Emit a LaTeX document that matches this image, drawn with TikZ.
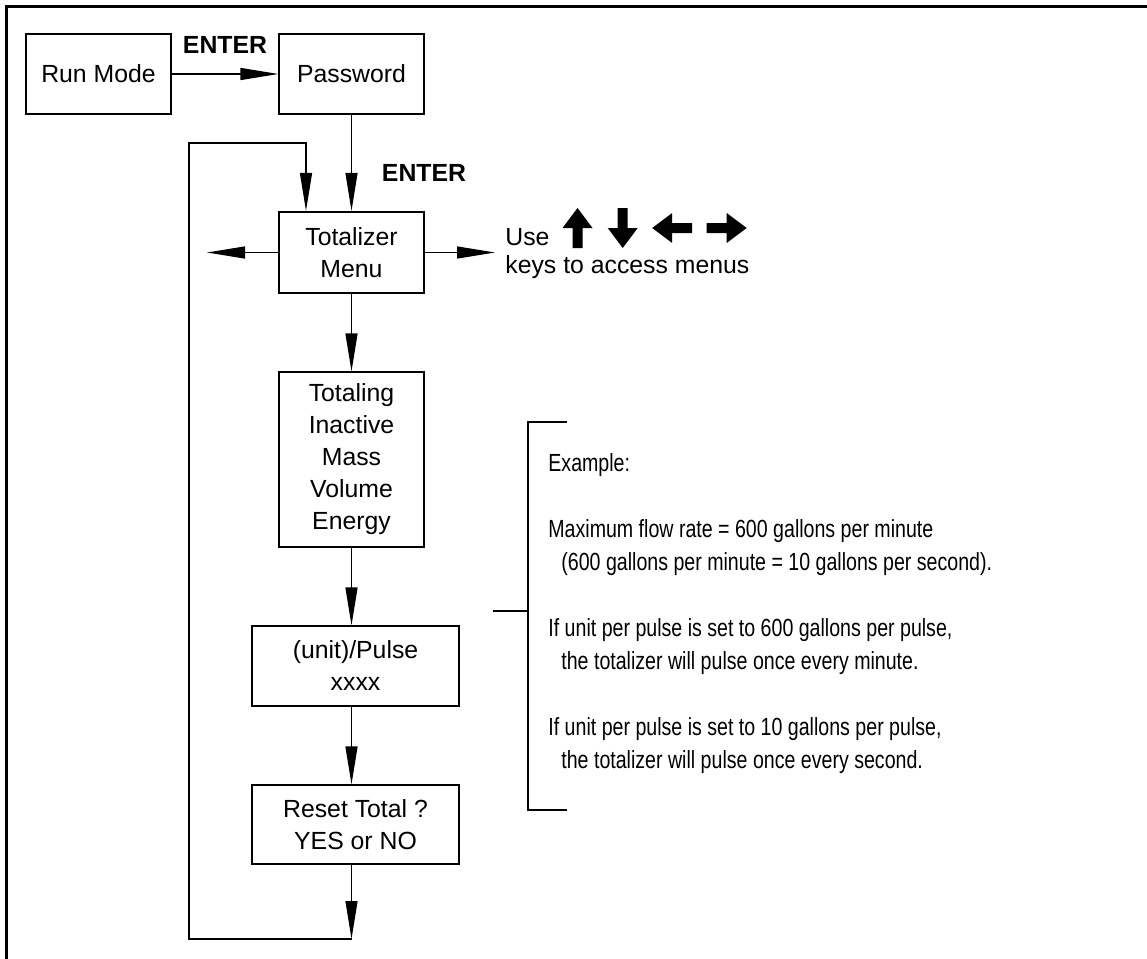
\documentclass[tikz,border=0pt]{standalone}
\usepackage{fontspec}
\setmainfont{Liberation Sans}
\newfontfamily\narrowfont{Liberation Sans}[FakeStretch=0.79]
\usepackage{tikz}
\usetikzlibrary{positioning, arrows.meta, calc}

\begin{document}
\begin{tikzpicture}[x=0.5pt, y=-0.5pt,
    font=\fontsize{12.4}{16}\selectfont,
    menubox/.style={draw, line width=0.6pt, align=center, inner sep=0pt,
      minimum width=72.5pt, minimum height=40pt},
    widebox/.style={menubox, minimum width=103.5pt},
    flow/.style={line width=0.6pt, -{Triangle[length=19pt, width=6pt]}}]
        \useasboundingbox (0,0) rectangle (1147,959);

        % Frame (top and left only)
        \draw[line width=1.5pt] (1147,6.3) -- (6.3,6.3) -- (6.3,959);

        % Menu boxes
        \node[menubox] (runmode) at (98.5,74) {Run Mode};
        \node[menubox] (password) at (351.5,74) {Password};
        \node[menubox, line width=1.1pt, minimum height=40.5pt] (totmenu) at (351.5,252.5) {Totalizer\\Menu};
        \node[menubox, minimum height=87.5pt] (totaling) at (351.5,459.5) {Totaling\\Inactive\\Mass\\Volume\\Energy};
        \node[widebox] (unitpulse) at (355.5,666) {(unit)/Pulse\\xxxx};
        \node[widebox, minimum height=39.5pt] (reset) at (355.5,824.5) {Reset Total ?\\YES or NO};

        % Key labels
        \node[font=\bfseries\fontsize{12.4}{16}\selectfont] (enter1) at (225,45) {ENTER};
        \node[font=\bfseries\fontsize{12.4}{16}\selectfont] (enter2) at (424,173) {ENTER};
        \node[anchor=north west, align=left, inner xsep=5pt, inner ysep=0pt,
          font=\fontsize{12.4}{14}\selectfont] (keytxt) at (495,228) {Use\\keys to access menus};

        % Arrow keys
        \foreach \ang/\cx in {90/577.5, -90/622.7, 180/672.2, 0/726.7}
          \fill[rotate around={\ang:(\cx,228)}] (\cx-20,223) -- (\cx,223) -- (\cx,213) -- (\cx+20,228)
            -- (\cx,243) -- (\cx,233) -- (\cx-20,233) -- cycle;

        % Connectors
        \coordinate (leftend) at (207,252.5);
        \coordinate (loopbot) at (351.5,939);
        \draw[flow] (runmode) -- (password);
        \draw[flow] (password) -- (totmenu);
        \draw[flow] (totmenu.west) -- (leftend);
        \draw[flow] (totmenu.east) -- (totmenu.east -| keytxt.west);
        \draw[flow] (totmenu) -- (totaling);
        \draw[flow] (totaling.south) -- (totaling.south |- unitpulse.north);
        \draw[flow] (unitpulse.south -| totaling.south) -- (totaling.south |- reset.north);
        \draw[flow] (reset.south -| totaling.south) -- (loopbot);
        \draw[flow] (loopbot) -| (189,143) -| ([xshift=-22.75pt]totmenu.north);

        % Example bracket
        \draw[line width=0.6pt] (567,422) -- (528,422) -- (528,810) -- (567,810);
        \draw[line width=0.6pt] (493,611) -- (528,611);
        \node[anchor=north west, align=left, inner sep=0pt,
          font=\narrowfont\fontsize{12.4}{16.5}\selectfont] (example) at (548,453) {Example:\\[16.5pt]
          Maximum flow rate = 600 gallons per minute\\
          \hspace*{6.5pt}(600 gallons per minute = 10 gallons per second).\\[16.5pt]
          If unit per pulse is set to 600 gallons per pulse,\\
          \hspace*{6.5pt}the totalizer will pulse once every minute.\\[16.5pt]
          If unit per pulse is set to 10 gallons per pulse,\\
          \hspace*{6.5pt}the totalizer will pulse once every second.};
      \end{tikzpicture}
\end{document}
